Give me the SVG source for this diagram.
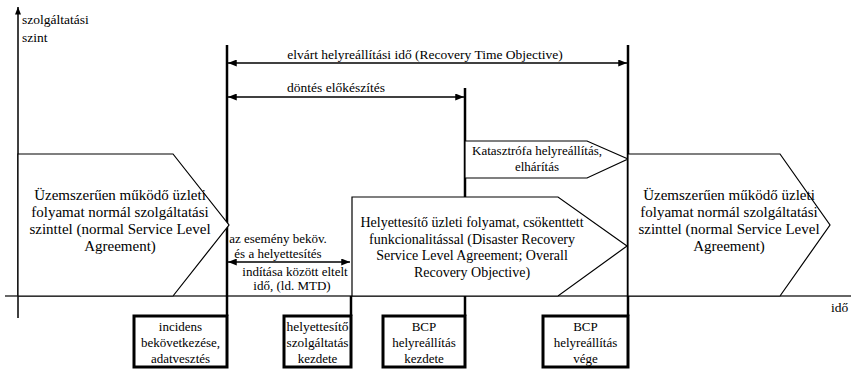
<svg xmlns="http://www.w3.org/2000/svg" width="851" height="369" viewBox="0 0 851 369">
<style>
text{font-family:"Liberation Serif","Times New Roman",serif;fill:#000}
.t135{font-size:13.5px}
.t13{font-size:13px}
.t14{font-size:14px}
.t15{font-size:15px}
.tb{font-size:13px}
.c{text-anchor:middle}
.shape{fill:#fff;stroke:#000;stroke-width:1.2}
.thick{stroke:#000;stroke-width:2.5;fill:none}
.box{fill:#fff;stroke:#000;stroke-width:3}
.dim{stroke:#000;stroke-width:1.3;fill:none;marker-start:url(#ah);marker-end:url(#ah)}
</style>
<defs>
<marker id="ah" viewBox="0 0 10 8" refX="10" refY="4" markerWidth="9" markerHeight="7" markerUnits="userSpaceOnUse" orient="auto-start-reverse">
<path d="M0,0 L10,4 L0,8 z" fill="#000"/>
</marker>
<marker id="ax" viewBox="0 0 8 10" refX="4" refY="0" markerWidth="6" markerHeight="8" markerUnits="userSpaceOnUse" orient="0">
<path d="M4,0 L8,10 L0,10 z" fill="#000"/>
</marker>
</defs>

<g id="axes">
<line x1="18" y1="318" x2="18" y2="7" stroke="#000" stroke-width="1.5" marker-end="url(#ax)"/>
<line x1="5" y1="296" x2="851" y2="296" stroke="#333" stroke-width="1.5"/>
<text class="t135" x="22" y="24">szolgáltatási</text>
<text class="t135" x="22" y="42">szint</text>
<text class="t135" x="831" y="312">idő</text>
</g>

<g id="connectors">
<line class="thick" x1="227" y1="45" x2="227" y2="316"/>
<line class="thick" x1="628" y1="45" x2="628" y2="316"/>
<line class="thick" x1="465" y1="88" x2="465" y2="316"/>
<line class="thick" x1="351" y1="296" x2="351" y2="316"/>
<line class="dim" x1="228" y1="63" x2="627" y2="63"/>
<line class="dim" x1="228" y1="97" x2="464" y2="97"/>
<line class="dim" x1="228" y1="262" x2="350" y2="262"/>
<text class="t135 c" x="425" y="59">elvárt helyreállítási idő (Recovery Time Objective)</text>
<text class="t135 c" x="336" y="92">döntés előkészítés</text>
<text class="t13 c" x="278" y="243">az esemény beköv.</text>
<text class="t13 c" x="278" y="258">és a helyettesítés</text>
<text class="t13 c" x="295" y="276">indítása között eltelt</text>
<text class="t13 c" x="292" y="290">idő, (ld. MTD)</text>
</g>

<g id="normal-left">
<polygon class="shape" points="18,154 173,154 229,225 173,296 18,296"/>
<text class="t15 c" x="120" y="200">Üzemszerűen működő üzleti</text>
<text class="t15 c" x="120" y="217">folyamat normál szolgáltatási</text>
<text class="t15 c" x="120" y="234">szinttel (normal Service Level</text>
<text class="t15 c" x="120" y="251">Agreement)</text>
</g>

<g id="katasztrofa">
<polygon class="shape" points="465,141 587,141 628,159 587,178 465,178"/>
<text class="t13 c" x="537" y="155">Katasztrófa helyreállítás,</text>
<text class="t13 c" x="537" y="171">elhárítás</text>
</g>

<g id="helyettesito">
<polygon class="shape" points="352,197 558,197 627,246 558,296 352,296"/>
<text class="t14 c" x="472" y="227">Helyettesítő üzleti folyamat, csökenttett</text>
<text class="t14 c" x="472" y="244">funkcionalitással (Disaster Recovery</text>
<text class="t14 c" x="472" y="260">Service Level Agreement; Overall</text>
<text class="t14 c" x="472" y="277">Recovery Objective)</text>
</g>

<g id="normal-right">
<polygon class="shape" points="628,154 780,154 830,225 780,296 628,296"/>
<text class="t15 c" x="729" y="200">Üzemszerűen működő üzleti</text>
<text class="t15 c" x="729" y="217">folyamat normál szolgáltatási</text>
<text class="t15 c" x="729" y="234">szinttel (normal Service Level</text>
<text class="t15 c" x="729" y="251">Agreement)</text>
</g>

<g id="box-incidens">
<rect class="box" x="134" y="316" width="93" height="51"/>
<text class="tb c" x="180.5" y="331">incidens</text>
<text class="tb c" x="180.5" y="347">bekövetkezése,</text>
<text class="tb c" x="180.5" y="363">adatvesztés</text>
</g>

<g id="box-helyettesito">
<rect class="box" x="284" y="316" width="67" height="51"/>
<text class="tb c" x="317.5" y="331" textLength="62" lengthAdjust="spacingAndGlyphs">helyettesítő</text>
<text class="tb c" x="317.5" y="347" textLength="62" lengthAdjust="spacingAndGlyphs">szolgáltatás</text>
<text class="tb c" x="317.5" y="363">kezdete</text>
</g>

<g id="box-bcp-kezdete">
<rect class="box" x="383" y="316" width="82" height="51"/>
<text class="tb c" x="424" y="331">BCP</text>
<text class="tb c" x="424" y="347">helyreállítás</text>
<text class="tb c" x="424" y="363">kezdete</text>
</g>

<g id="box-bcp-vege">
<rect class="box" x="543" y="316" width="85" height="51"/>
<text class="tb c" x="585.5" y="331">BCP</text>
<text class="tb c" x="585.5" y="347">helyreállítás</text>
<text class="tb c" x="585.5" y="363">vége</text>
</g>
</svg>
